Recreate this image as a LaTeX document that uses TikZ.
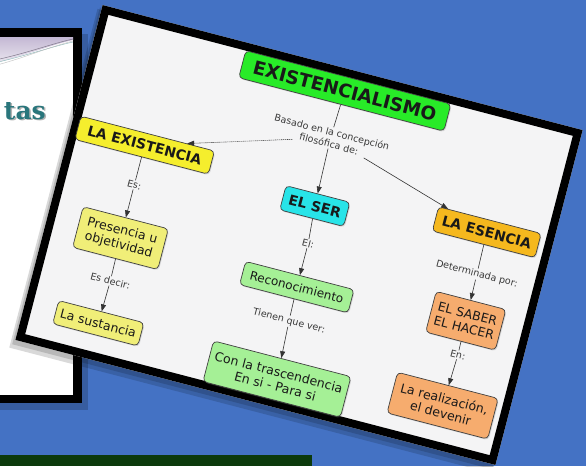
\documentclass[tikz,border=0pt]{standalone}
\usepackage{fontspec}
\setmainfont{DejaVu Sans}
\newfontfamily\tasfont{DejaVu Serif}
\usetikzlibrary{arrows.meta,shadows}

\definecolor{bgblue}{RGB}{68,114,196}
\definecolor{dkgreen}{RGB}{12,58,12}
\definecolor{cardwhite}{RGB}{244,244,245}
\definecolor{cgreen}{RGB}{40,235,40}
\definecolor{cyellow}{RGB}{245,238,45}
\definecolor{ccyan}{RGB}{40,228,232}
\definecolor{cgold}{RGB}{245,184,30}
\definecolor{lyellow}{RGB}{240,238,120}
\definecolor{lgreen}{RGB}{165,240,150}
\definecolor{lorange}{RGB}{246,172,110}
\definecolor{tasteal}{RGB}{42,118,124}
\definecolor{hdrtop}{RGB}{196,184,212}
\definecolor{hdrbot}{RGB}{238,235,242}

\tikzset{
  concept/.style={draw=black!75, line width=0.7pt, rounded corners=4pt,
    inner xsep=3pt, inner ysep=2pt, align=center, text=black!90,
    drop shadow={opacity=0.25, shadow xshift=1pt, shadow yshift=-1.2pt}},
  bigc/.style={concept, font=\fontsize{14}{16}\selectfont\bfseries},
  smallc/.style={concept, font=\fontsize{12.5}{14.5}\selectfont},
  linklabel/.style={font=\fontsize{9.5}{12}\selectfont, text=black!78, inner sep=1pt, align=center},
  link/.style={draw=black!80, line width=0.6pt},
  arr/.style={-{Triangle[length=7pt,width=5pt]}},
}

\begin{document}
\begin{tikzpicture}[x=1pt,y=-1pt]
\useasboundingbox (0,0) rectangle (586,466);
\fill[bgblue] (0,0) rectangle (586,466);

% left card (behind)
\fill[black,opacity=0.18] (-20,34) rectangle (88,410);
\fill[black] (-20,28) rectangle (82,403);
\fill[white] (-20,37) rectangle (73,395);
\shade[top color=hdrtop, bottom color=hdrbot]
  (-20,37) -- (73,37) -- (73,40) .. controls (50,45) and (20,58) .. (-20,66) -- cycle;
\draw[black!35!hdrtop, line width=0.5pt] (73,39) .. controls (50,44) and (20,56) .. (-20,63);
\draw[tasteal!60, line width=0.4pt] (73,42) .. controls (50,47) and (20,58) .. (-20,66);
\draw[black!25, line width=0.4pt] (73,41) .. controls (45,48) and (15,62) .. (-20,69);
\node[anchor=base east, text=black!30, inner sep=0pt] (tasshadow) at (47.5,120.5)
  {\tasfont\bfseries\fontsize{25}{25}\selectfont tas};
\node[anchor=base east, text=tasteal, inner sep=0pt] (tas) at (46,119)
  {\tasfont\bfseries\fontsize{25}{25}\selectfont tas};

% dark green bar
\fill[dkgreen] (0,455) rectangle (312,466);

% rotated concept map card
\begin{scope}[shift={(299,235)}, rotate=-14.6, transform shape]
  \fill[black,opacity=0.15] (-252,-168) rectangle (246,182);
  \fill[black,opacity=0.15] (-250,-170) rectangle (247,178);
  \fill[cardwhite] (-248,-173) rectangle (248,173);
  \draw[black, line width=8pt] (-244,-169) rectangle (244,169);

  \node[concept, fill=cgreen, font=\fontsize{18.5}{20}\selectfont\bfseries,
        minimum width=212, minimum height=28] (ex) at (8,-151) {EXISTENCIALISMO};
  \node[linklabel] (basado) at (6,-102) {Basado en la concepción\\filosófica de:};

  \node[bigc, fill=cyellow, minimum width=138, minimum height=24] (laex) at (-172,-48) {LA EXISTENCIA};
  \node[bigc, fill=ccyan, minimum width=66, minimum height=25] (elser) at (8,-32) {EL SER};
  \node[bigc, fill=cgold, minimum width=106, minimum height=25] (laesen) at (181,-50) {LA ESENCIA};

  \node[linklabel] (es) at (-172,-7) {Es:};
  \node[smallc, fill=lyellow, minimum width=88, minimum height=42] (pres) at (-172,48) {Presencia u\\objetividad};
  \node[linklabel] (esdecir) at (-171,92) {Es decir:};
  \node[smallc, fill=lyellow, minimum width=88, minimum height=24] (sust) at (-172,136) {La sustancia};

  \node[linklabel] (el) at (11,6) {El:};
  \node[smallc, fill=lgreen, minimum width=112, minimum height=24, font=\fontsize{12}{14}\selectfont] (recon) at (11,51) {Reconocimiento};
  \node[linklabel] (tienen) at (12,86) {Tienen que ver:};
  \node[smallc, fill=lgreen, minimum width=142, minimum height=42] (con) at (15,145) {Con la trascendencia\\En si - Para si};

  \node[linklabel] (determ) at (182,-7) {Determinada por:};
  \node[smallc, fill=lorange, minimum width=72, minimum height=42] (saber) at (183,41) {EL SABER\\EL HACER};
  \node[linklabel] (en) at (184,76) {En:};
  \node[smallc, fill=lorange, minimum width=104, minimum height=42] (real) at (182,129) {La realización,\\el devenir};

  \draw[link] (ex) -- (basado);
  \draw[link,arr] (basado) -- (elser);
  \draw[link,arr,dash pattern=on 1.2pt off 0.8pt] (basado) -- (laex);
  \draw[link,arr] (basado) -- (laesen);

  \draw[link] (laex) -- (es);
  \draw[link,arr] (es) -- (pres);
  \draw[link] (pres) -- (esdecir);
  \draw[link,arr] (esdecir) -- (sust);

  \draw[link] (elser) -- (el);
  \draw[link,arr] (el) -- (recon);
  \draw[link] (recon) -- (tienen);
  \draw[link,arr] (tienen) -- (con);

  \draw[link] (laesen) -- (determ);
  \draw[link,arr] (determ) -- (saber);
  \draw[link] (saber) -- (en);
  \draw[link,arr] (en) -- (real);
\end{scope}
\end{tikzpicture}
\end{document}
